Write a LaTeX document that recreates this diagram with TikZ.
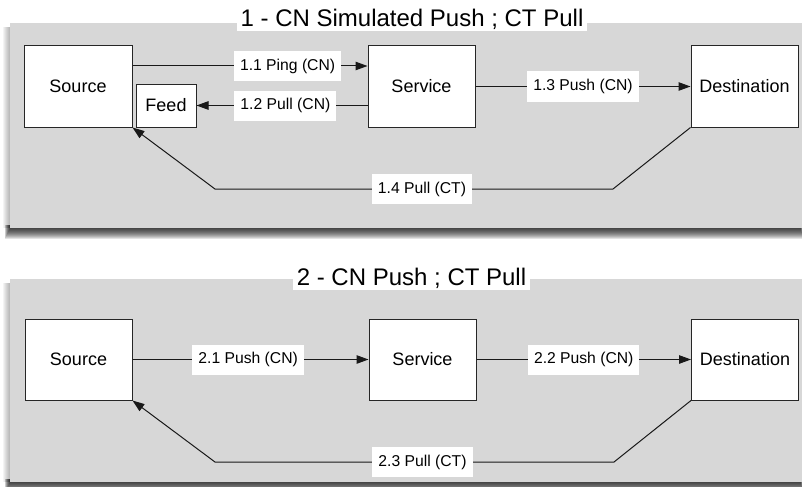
\documentclass[tikz,border=0pt]{standalone}
\usepackage{fontspec}
\setmainfont{Liberation Sans}
\usetikzlibrary{arrows.meta,calc}
\definecolor{panelgray}{RGB}{215,215,215}
\tikzset{
  box/.style={draw=black!85, line width=1pt, fill=white, inner sep=0pt,
    font=\fontsize{18}{20}\selectfont},
  lbl/.style={fill=white, inner xsep=6pt, inner ysep=0pt, minimum height=30pt,
    font=\fontsize{15.7}{17}\selectfont},
  ttl/.style={fill=white, inner xsep=4pt, inner ysep=0pt, minimum height=23pt,
    font=\fontsize{24}{26}\selectfont},
  conn/.style={line width=1pt, draw=black!90},
  arr/.style={conn, -{Triangle[length=12pt,width=8.5pt]}},
  panel/.style={fill=panelgray, draw=none},
}
\newcommand{\softshadow}[4]{%
  \foreach \i in {1,...,11}{
    \fill[black, opacity=0.11] ({#1-\i*0.5},{#4-3}) rectangle ({#3+\i*0.1},{#4+\i});
  }
  \foreach \i in {1,...,7}{
    \fill[black, opacity=0.045] ({#1-\i},{#2+4}) rectangle ({#1},{#4});
  }}
\begin{document}
\begin{tikzpicture}[x=1pt,y=-1pt]
\useasboundingbox (0,0) rectangle (803,487);
% panel 1
\softshadow{10}{23}{801}{228}
\fill[panel] (10,23) rectangle (801.5,228);
% panel 2
\softshadow{10}{279}{801}{481.5}
\fill[panel] (10,279) rectangle (801.5,481.5);

\node[ttl] (t1) at (412,19.5) {1 - CN Simulated Push ; CT Pull};
\node[ttl] (t2) at (411.5,278.5) {2 - CN Push ; CT Pull};

% diagram 1
\node[box, minimum width=108pt, minimum height=81pt] (src1) at (78,86.5) {Source};
\node[box, minimum width=60pt, minimum height=43pt] (feed) at (166,105.5) {Feed};
\node[box, minimum width=107pt, minimum height=81pt] (svc1) at (421.5,86.5) {Service};
\node[box, minimum width=107pt, minimum height=81pt] (dst1) at (744.5,86.5) {Destination};

\draw[arr] ([yshift=20.5pt]src1.east) -- node[lbl, pos=0.66] (l11) {1.1 Ping (CN)} ([yshift=20.5pt]svc1.west);
\draw[arr] ([yshift=-19pt]svc1.west) -- node[lbl, pos=0.48] (l12) {1.2 Pull (CN)} (feed.east);
\draw[arr] (svc1.east) -- node[lbl, pos=0.5] (l13) {1.3 Push (CN)} (dst1.west);
\coordinate (b1r) at (613,189);
\coordinate (b1l) at (215,189);
\draw[arr] (dst1.south west) -- (b1r) -- node[lbl, pos=0.48] (l14) {1.4 Pull (CT)} (b1l) -- (src1.south east);

% diagram 2
\node[box, minimum width=107pt, minimum height=81pt] (src2) at (78.5,359.5) {Source};
\node[box, minimum width=107pt, minimum height=81pt] (svc2) at (422.5,359.5) {Service};
\node[box, minimum width=107pt, minimum height=81pt] (dst2) at (745,359.5) {Destination};

\draw[arr] (src2.east) -- node[lbl, pos=0.49] (l21) {2.1 Push (CN)} (svc2.west);
\draw[arr] (svc2.east) -- node[lbl, pos=0.5] (l22) {2.2 Push (CN)} (dst2.west);
\coordinate (b2r) at (614,462);
\coordinate (b2l) at (215,462);
\draw[arr] (dst2.south west) -- (b2r) -- node[lbl, pos=0.48] (l23) {2.3 Pull (CT)} (b2l) -- (src2.south east);
\end{tikzpicture}
\end{document}
